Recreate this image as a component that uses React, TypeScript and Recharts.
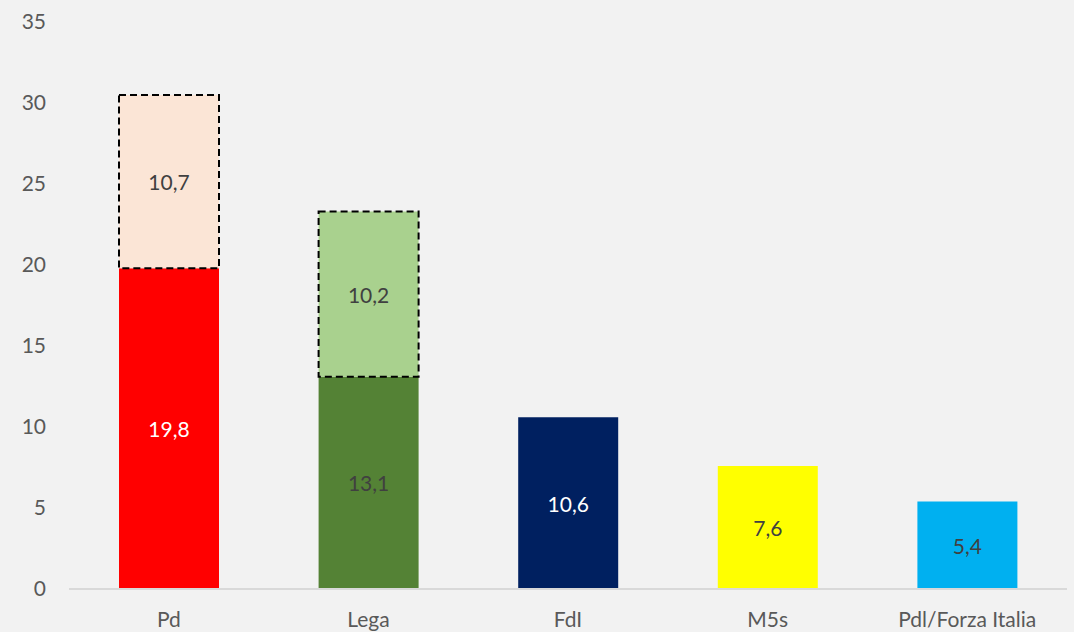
import React from 'react';
import { BarChart, Bar, XAxis, YAxis, Cell, LabelList } from 'recharts';

const categories = ['Pd', 'Lega', 'FdI', 'M5s', 'Pdl/Forza Italia'];
const baseValues = [19.8, 13.1, 10.6, 7.6, 5.4];
const extraValues: (number | null)[] = [10.7, 10.2, null, null, null];
const yTicks = [0, 5, 10, 15, 20, 25, 30, 35];

const baseColors = ['#ff0000', '#548235', '#002060', '#ffff00', '#00b0f0'];
const baseLabelColors = ['#ffffff', '#404040', '#ffffff', '#404040', '#404040'];
const extraColors = ['#fbe5d6', '#a9d18e', '#ffffff', '#ffffff', '#ffffff'];

const data = categories.map((name, i) => ({
  name,
  base: baseValues[i],
  extra: extraValues[i],
}));

const FONT = 'Lato, "Open Sans", sans-serif';

const fmt = (v: any) => String(v).replace('.', ',');

const makeLabel = (colors: string[]) => (props: any) => {
  const { x, y, width, height, value, index } = props;
  if (value === null || value === undefined || value === 0) return null;
  return (
    <text
      x={x + width / 2}
      y={y + height / 2}
      fill={colors[index] ?? '#404040'}
      textAnchor="middle"
      dominantBaseline="central"
      fontSize={21}
      fontFamily={FONT}
    >
      {fmt(value)}
    </text>
  );
};

export default function App() {
  return (
    <div style={{ position: 'absolute', left: 0, top: 0, width: 1074, height: 632, background: '#f2f2f2' }}>
      <BarChart
        width={1074}
        height={632}
        data={data}
        margin={{ top: 22, right: 7, bottom: 0, left: 0 }}
      >
        <XAxis
          dataKey="name"
          height={43}
          axisLine={{ stroke: '#d9d9d9', strokeWidth: 2 }}
          tickLine={false}
          tickSize={0}
          tickMargin={23}
          tick={{ fill: '#595959', fontSize: 21, fontFamily: FONT }}
        />
        <YAxis
          width={69}
          domain={[0, 35]}
          ticks={yTicks}
          axisLine={false}
          tickLine={false}
          tickSize={0}
          tickMargin={23}
          tick={{ fill: '#595959', fontSize: 21, fontFamily: FONT }}
        />
        <Bar dataKey="base" stackId="a" barSize={100} isAnimationActive={false}>
          {data.map((_, i) => (
            <Cell key={i} fill={baseColors[i]} />
          ))}
          <LabelList dataKey="base" content={makeLabel(baseLabelColors)} />
        </Bar>
        <Bar dataKey="extra" stackId="a" barSize={100} isAnimationActive={false}>
          {data.map((_, i) => (
            <Cell key={i} fill={extraColors[i]} stroke="#000000" strokeWidth={2} strokeDasharray="7 4" />
          ))}
          <LabelList dataKey="extra" content={makeLabel(['#404040', '#404040', '#404040', '#404040', '#404040'])} />
        </Bar>
      </BarChart>
    </div>
  );
}
